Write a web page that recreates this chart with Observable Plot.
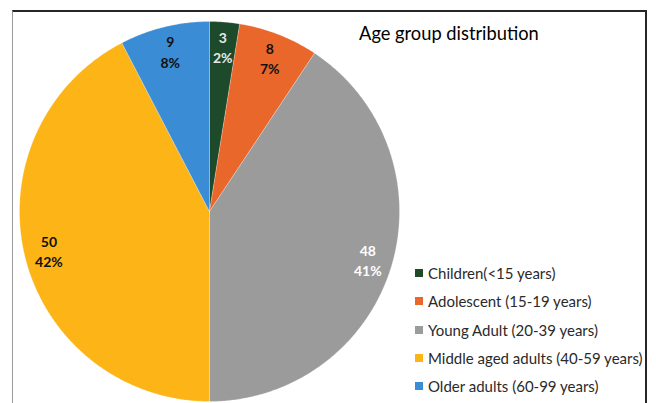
<!DOCTYPE html>
<html><head><meta charset="utf-8">
<script src="https://cdn.jsdelivr.net/npm/d3@7"></script>
<script src="https://cdn.jsdelivr.net/npm/@observablehq/plot@0.6"></script>
<style>
html,body{margin:0;padding:0;background:#fff;}
#wrap{position:relative;width:656px;height:403px;overflow:hidden;font-family:Lato,"Open Sans",sans-serif;}
#frame{position:absolute;left:12px;top:10px;width:635px;height:420px;border-top:2px solid #262626;border-right:2px solid #262626;border-left:1px solid #9a9a9a;box-sizing:border-box;}
#chart{position:absolute;left:0;top:0;}
#chart svg{background:transparent;}
#title{position:absolute;left:359px;top:22px;font-size:18.3px;color:#000;white-space:nowrap;}
#legend{position:absolute;left:415px;top:259px;}
.row{height:28.3px;line-height:28.3px;font-size:15px;color:#2a2a2a;white-space:nowrap;display:flex;align-items:center;}
.sw{width:8px;height:8px;margin-right:5px;display:inline-block;}
</style>
</head><body>
<div id="wrap">
  <div id="frame"></div>
  <div id="chart"></div>
  <div id="title">Age group distribution</div>
  <div id="legend"></div>
</div>
<script>
const categories = ["Children(<15 years)", "Adolescent (15-19 years)", "Young Adult (20-39 years)", "Middle aged adults (40-59 years)", "Older adults (60-99 years)"];
const counts = [3, 8, 48, 50, 9];
const percentLabels = ["2%", "7%", "41%", "42%", "8%"];
const colors = ["#1d4a2b", "#e9672a", "#9b9b9b", "#fcb416", "#3a8cd5"];
const labelColors = ["#e8e8e8", "#111111", "#ffffff", "#111111", "#111111"];

const W = 656, H = 403, cx = 209, cy = 211, R = 190;

const arcs = d3.pie().sort(null).value(d => d)(counts);

// slice outlines on the unit circle (angle 0 = 12 o'clock, clockwise)
const sliceRows = [];
arcs.forEach((a, i) => {
  const cat = categories[i];
  sliceRows.push({cat, x: 0, y: 0});
  const n = Math.max(2, Math.ceil((a.endAngle - a.startAngle) / (Math.PI / 360)));
  for (let k = 0; k <= n; k++) {
    const t = a.startAngle + (a.endAngle - a.startAngle) * k / n;
    sliceRows.push({cat, x: Math.sin(t), y: Math.cos(t)});
  }
  sliceRows.push({cat, x: 0, y: 0});
});

const labelRadius = 0.87;
const labelRows = arcs.map((a, i) => {
  const m = (a.startAngle + a.endAngle) / 2;
  return {x: labelRadius * Math.sin(m), y: labelRadius * Math.cos(m),
          text: counts[i] + "\n" + percentLabels[i], color: labelColors[i]};
});

const textOpts = (color) => ({x: "x", y: "y", text: "text", fill: color,
  fontSize: 14, fontWeight: "bold", fontFamily: "Lato, 'Open Sans', sans-serif", lineHeight: 1.45});

const chart = Plot.plot({
  width: W, height: H, margin: 0,
  x: {domain: [-cx / R, (W - cx) / R], axis: null},
  y: {domain: [-(H - cy) / R, cy / R], axis: null},
  color: {domain: categories, range: colors},
  marks: [
    Plot.line(sliceRows, {x: "x", y: "y", z: "cat", fill: "cat", stroke: "#ffffff", strokeWidth: 0.4, strokeOpacity: 0.6}),
    ...[...new Set(labelColors)].map(c => Plot.text(labelRows.filter(d => d.color === c), textOpts(c)))
  ]
});
document.getElementById("chart").appendChild(chart);

const legend = document.getElementById("legend");
categories.forEach((c, i) => {
  const row = document.createElement("div");
  row.className = "row";
  const sw = document.createElement("span");
  sw.className = "sw";
  sw.style.background = colors[i];
  row.appendChild(sw);
  row.appendChild(document.createTextNode(c));
  legend.appendChild(row);
});
</script>
</body></html>
